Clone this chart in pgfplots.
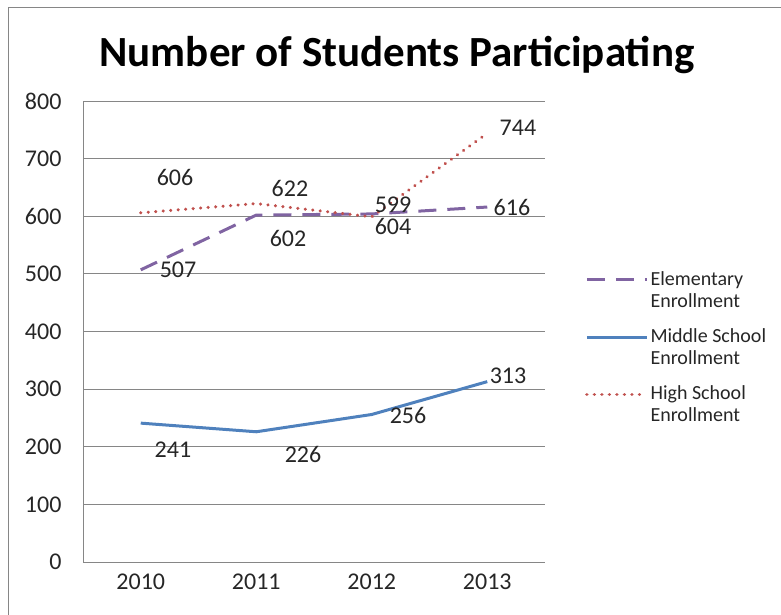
\documentclass[border=0pt]{standalone}
\usepackage{pgfplots}
\pgfplotsset{compat=1.18}
\usepackage{fontspec}
\setmainfont{Carlito}
\definecolor{elem}{HTML}{8064A2}
\definecolor{mid}{HTML}{4F81BD}
\definecolor{high}{HTML}{C0504D}
\definecolor{frame}{RGB}{134,134,134}
\definecolor{gridc}{RGB}{134,134,134}
\begin{document}
\begin{tikzpicture}[x=1pt,y=1pt]
\useasboundingbox (0,0) rectangle (781,614);
\draw[frame,line width=1pt] (8,-10) -- (8,606) -- (800,606);
\node[font=\fontsize{43}{50}\selectfont\bfseries] at (397,559) {Number of Students Participating};
\begin{axis}[
  at={(83pt,52pt)}, anchor=south west,
  scale only axis, width=462pt, height=461pt,
  xmin=-0.5, xmax=3.5, ymin=0, ymax=800,
  xtick={0,1,2,3}, xticklabels={2010,2011,2012,2013},
  ytick={0,100,...,800},
  axis x line*=bottom, axis y line*=left,
  axis line style={gridc, line width=0.8pt, -},
  ymajorgrids, grid style={gridc, line width=0.8pt},
  major tick length=0pt,
  tick label style={font=\fontsize{24}{28}\selectfont, text=black!85},
  /pgf/number format/assume math mode=true,
  yticklabel style={xshift=-18pt},
  xticklabel style={yshift=-8pt},
  clip=false,
  legend style={draw=none, fill=none, at={(1.08,0.64)}, anchor=north west,
    font=\fontsize{20}{22}\selectfont, row sep=16pt, text=black!85,
    cells={anchor=west, align=left}},
  legend cell align=left,
  legend image code/.code={\path[draw=none,fill=none] (0pt,-12pt) rectangle (60pt,12pt); \draw[#1] (0pt,10pt) -- (60pt,10pt);},
]
\addplot[elem, line width=3pt, dash pattern=on 18pt off 11pt] coordinates {(0,507) (1,602) (2,604) (3,616)};
\addlegendentry{Elementary\\Enrollment}
\addplot[mid, line width=3pt] coordinates {(0,241) (1,226) (2,256) (3,313)};
\addlegendentry{Middle School\\Enrollment}
\addplot[high, line width=3.4pt, line cap=round, dash pattern=on 0.01pt off 7.5pt] coordinates {(0,606) (1,622) (2,599) (3,744)};
\addlegendentry{High School\\Enrollment}
\begin{scope}[every node/.style={font=\fontsize{24}{28}\selectfont, text=black!85}]
\node at (axis cs:0.297,667) {606};
\node at (axis cs:1.292,649) {622};
\node at (axis cs:2.184,620) {599};
\node at (axis cs:3.266,753) {744};
\node at (axis cs:0.323,507) {507};
\node at (axis cs:1.275,562) {602};
\node at (axis cs:2.184,582) {604};
\node at (axis cs:3.214,615) {616};
\node at (axis cs:0.279,194) {241};
\node at (axis cs:1.405,186) {226};
\node at (axis cs:2.314,255) {256};
\node at (axis cs:3.18,323) {313};
\end{scope}
\end{axis}
\end{tikzpicture}
\end{document}
